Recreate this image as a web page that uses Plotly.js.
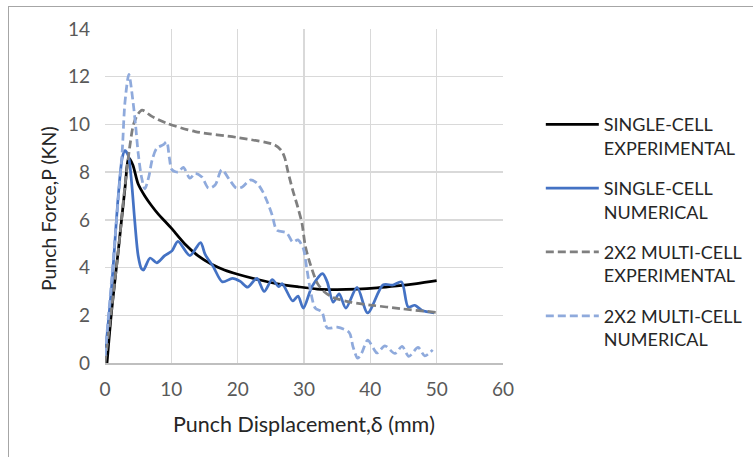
<!DOCTYPE html>
<html>
<head>
<meta charset="utf-8">
<script src="https://cdn.plot.ly/plotly-3.0.1.min.js"></script>
<style>
  body { margin: 0; background: #ffffff; }
  #frame { position: absolute; left: 8px; top: 6px; width: 760px; height: 470px; border: 1px solid #a6a6a6; }
  #chart { position: absolute; left: 0; top: 0; width: 753px; height: 457px; }
</style>
</head>
<body>
<div id="frame"></div>
<div id="chart"></div>
<script>
// Series names
var seriesNames = [
  'SINGLE-CELL<br>EXPERIMENTAL',
  'SINGLE-CELL<br>NUMERICAL',
  '2X2 MULTI-CELL<br>EXPERIMENTAL',
  '2X2 MULTI-CELL<br>NUMERICAL'
];

// Single-cell experimental
var scExpX = [0.3, 1, 2, 3, 3.6, 4.2, 5, 6, 7, 8, 9, 10, 12, 14, 16, 18, 20, 23, 26, 29, 32, 35, 38, 41, 44, 47, 50];
var scExpY = [0, 2.2, 4.7, 7.3, 8.6, 8.3, 7.5, 7.0, 6.6, 6.25, 5.95, 5.65, 5.0, 4.5, 4.15, 3.9, 3.72, 3.5, 3.32, 3.2, 3.1, 3.08, 3.1, 3.15, 3.23, 3.33, 3.45];

// Single-cell numerical
var scNumX = [0, 1, 2, 2.6, 3.0, 3.5, 4.0, 4.5, 5.0, 5.5, 5.8, 6.8, 7.8, 9.0, 10.1, 11.0, 12.8, 14.4, 15.1, 16.3, 17.7, 19.2, 20.4, 21.5, 22.9, 24.0, 25.2, 26.2, 26.7, 28.3, 29.1, 29.9, 31.2, 32.8, 33.5, 34.4, 35.3, 36.3, 38.0, 39.6, 41.9, 43.4, 44.7, 45.7, 46.7, 47.8, 49.6];
var scNumY = [0.3, 3.2, 7.0, 8.6, 8.9, 8.7, 7.6, 5.9, 4.5, 3.95, 3.9, 4.4, 4.2, 4.5, 4.7, 5.1, 4.5, 5.05, 4.55, 4.05, 3.4, 3.55, 3.42, 3.18, 3.55, 3.0, 3.5, 3.2, 3.33, 2.6, 2.8, 2.3, 3.2, 3.75, 3.4, 2.55, 2.9, 2.3, 3.17, 2.1, 3.27, 3.27, 3.4, 2.35, 2.42, 2.2, 2.1];

// 2X2 multi-cell experimental
var mcExpX = [0, 1, 2, 3, 3.7, 4.3, 5.0, 5.6, 7, 9.3, 13.6, 20, 25.6, 26.6, 27.1, 27.6, 28.3, 29.1, 29.7, 30.2, 31.0, 32.0, 33.0, 34.4, 37, 40, 44.5, 50];
var mcExpY = [0, 2.3, 4.7, 7.4, 9.0, 10.0, 10.45, 10.6, 10.35, 10.05, 9.7, 9.45, 9.14, 8.9, 8.6, 8.0, 7.25, 6.5, 5.85, 4.9, 4.1, 3.35, 3.0, 2.75, 2.55, 2.43, 2.28, 2.12];

// 2X2 multi-cell numerical
var mcNumX = [0, 1, 2, 2.6, 3.0, 3.6, 4.2, 4.6, 5.0, 5.5, 6.0, 6.6, 7.1, 7.8, 8.8, 9.3, 9.7, 10.1, 11.0, 11.8, 12.8, 13.6, 14.6, 15.6, 16.6, 17.6, 18.8, 19.8, 20.7, 21.9, 22.9, 23.8, 24.4, 25.2, 25.9, 27.4, 28.3, 29.1, 29.9, 30.4, 31.0, 31.7, 32.7, 33.5, 35.0, 36.8, 37.4, 38.1, 38.7, 39.6, 40.5, 41.0, 42.2, 43.7, 44.8, 45.8, 47.2, 48.2, 49.4];
var mcNumY = [0.3, 3.5, 6.9, 8.9, 10.9, 12.1, 11.0, 10.0, 8.8, 7.8, 7.3, 7.8, 8.5, 9.0, 9.15, 9.27, 8.6, 8.1, 8.0, 8.2, 7.75, 7.95, 7.8, 7.33, 7.46, 8.1, 7.67, 7.33, 7.38, 7.67, 7.54, 7.17, 6.8, 6.2, 5.57, 5.45, 5.07, 5.16, 4.8, 4.0, 3.0, 2.3, 2.14, 1.47, 1.5, 1.28, 0.67, 0.2, 0.42, 0.96, 0.6, 0.42, 0.72, 0.4, 0.7, 0.28, 0.65, 0.3, 0.55];

var xTickVals = [0, 10, 20, 30, 40, 50, 60];
var yTickVals = [0, 2, 4, 6, 8, 10, 12, 14];

var xTitle = 'Punch Displacement,δ (mm)';
var yTitle = 'Punch Force,P (KN)';

var FONT = 'Lato, "Open Sans", sans-serif';

function mk(x, y, name, color, dash, group) {
  return {
    x: x, y: y, name: name, type: 'scatter', mode: 'lines',
    legendgroup: group,
    line: { color: color, width: 2.75, dash: dash, shape: 'spline', smoothing: 0.8 }
  };
}

var data = [
  mk(scExpX, scExpY, seriesNames[0], '#000000', 'solid', 'a'),
  mk(scNumX, scNumY, seriesNames[1], '#4472C4', 'solid', 'b'),
  mk(mcExpX, mcExpY, seriesNames[2], '#7F7F7F', '8px,4px', 'c'),
  mk(mcNumX, mcNumY, seriesNames[3], '#8FAADC', '8px,4px', 'd')
];

var layout = {
  width: 753, height: 457,
  margin: { l: 105, r: 250, t: 29, b: 94, autoexpand: false },
  paper_bgcolor: 'rgba(0,0,0,0)',
  plot_bgcolor: '#ffffff',
  showlegend: true,
  legend: {
    x: 1.095, y: 0.769, xref: 'paper', xanchor: 'left', yanchor: 'top',
    valign: 'top',
    font: { family: FONT, size: 18, color: '#262626' },
    tracegroupgap: 14,
    itemwidth: 53,
    bgcolor: 'rgba(0,0,0,0)'
  },
  xaxis: {
    range: [0, 60], tickvals: xTickVals, ticktext: xTickVals.map(String),
    showgrid: true, gridcolor: '#d9d9d9', gridwidth: 1.5,
    zeroline: false, showline: true, linecolor: '#bfbfbf', linewidth: 1.5,
    ticks: '', ticklabelstandoff: 9,
    tickfont: { family: FONT, size: 19, color: '#595959' },
    title: { text: xTitle, standoff: 17, font: { family: FONT, size: 21.5, color: '#262626' } },
    fixedrange: true
  },
  yaxis: {
    range: [0, 14], tickvals: yTickVals, ticktext: yTickVals.map(String),
    showgrid: true, gridcolor: '#d9d9d9', gridwidth: 1.5,
    zeroline: false, showline: false,
    ticks: '', ticklabelstandoff: 14,
    tickfont: { family: FONT, size: 19, color: '#595959' },
    fixedrange: true
  },
  annotations: [{
    text: yTitle, xref: 'paper', yref: 'paper',
    x: -0.143, y: 0.461, xanchor: 'center', yanchor: 'middle',
    textangle: -90, showarrow: false,
    font: { family: FONT, size: 19.5, color: '#262626' }
  }]
};

Plotly.newPlot('chart', data, layout, { displayModeBar: false, staticPlot: true });
</script>
</body>
</html>
